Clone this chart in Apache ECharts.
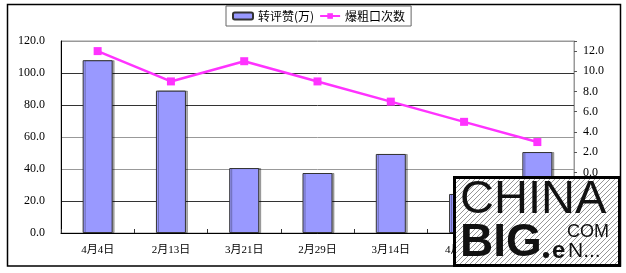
<!DOCTYPE html>
<html>
<head>
<meta charset="utf-8">
<script src="https://cdn.jsdelivr.net/npm/echarts@6/dist/echarts.min.js"></script>
<style>
html, body { margin: 0; padding: 0; background: #fff; }
#chart { width: 626px; height: 273px; }
</style>
</head>
<body>
<div id="chart"></div>
<script>
// data
var categories = ['4月4日', '2月13日', '3月21日', '2月29日', '3月14日', '4月11日', '4月18日'];
var zhuanping = [108, 89, 40.6, 37.5, 49.4, 24.4, 50.6];   // 转评赞(万), left axis
var baocukou = [12, 9, 11, 9, 7, 5, 3];                    // 爆粗口次数, right axis
var seriesNames = ['转评赞(万)', '爆粗口次数'];

var labelFont = "'Liberation Serif', 'Noto Sans CJK SC', serif";

// logo box in the corner: hatched box drawn into a canvas, then border and text
var boxX = 453, boxY = 176, boxW = 168, boxH = 91;
var hatch = document.createElement('canvas');
hatch.width = boxW; hatch.height = boxH;
var hc = hatch.getContext('2d');
hc.fillStyle = '#fff';
hc.fillRect(0, 0, boxW, boxH);
hc.strokeStyle = '#8a8a8a';
hc.lineWidth = 0.9;
hc.beginPath();
for (var c = 0; c < boxW + boxH; c += 5) {
    hc.moveTo(c, 0);
    hc.lineTo(c - boxH, boxH);
}
hc.stroke();

var logo = [
    {
        type: 'image', z: 100,
        style: { image: hatch, x: boxX, y: boxY, width: boxW, height: boxH }
    },
    {
        type: 'rect', z: 102,
        shape: { x: boxX + 1.5, y: boxY + 1.5, width: boxW - 3, height: boxH - 3 },
        style: { fill: 'none', stroke: '#000', lineWidth: 3 }
    },
    {
        type: 'text', z: 103, x: boxX + 7, y: boxY + 1,
        style: { text: 'CHINA', fill: '#111', font: '300 47px "Liberation Sans", sans-serif' }
    },
    {
        type: 'text', z: 103, x: boxX + 7, y: boxY + 44,
        style: { text: 'BIG', fill: '#111', font: 'bold 46px "Liberation Sans", sans-serif' }
    },
    {
        type: 'circle', z: 103,
        shape: { cx: boxX + 93, cy: boxY + 79, r: 3 },
        style: { fill: '#111' }
    },
    {
        type: 'text', z: 103, x: boxX + 114, y: boxY + 47,
        style: { text: 'COM', fill: '#111', font: '18px "Liberation Sans", sans-serif' }
    },
    {
        type: 'text', z: 103, x: boxX + 99, y: boxY + 63,
        style: { text: 'e', fill: '#111', font: 'bold 24px "Liberation Sans", sans-serif' }
    },
    {
        type: 'text', z: 103, x: boxX + 115, y: boxY + 65,
        style: { text: 'N...', fill: '#111', font: '21px "Liberation Sans", sans-serif' }
    }
];

var myChart = echarts.init(document.getElementById('chart'));
myChart.setOption({
    backgroundColor: '#fff',
    animation: false,
    legend: {
        left: 226,
        top: 6,
        padding: [4, 6, 4, 6],
        borderColor: '#666',
        borderWidth: 1,
        itemWidth: 20,
        itemHeight: 7,
        itemGap: 5,
        textStyle: { fontSize: 12, color: '#000', fontFamily: 'Noto Sans CJK SC' },
        data: seriesNames
    },
    grid: {
        left: 61, right: 52, top: 41, bottom: 40,
        show: true,
        borderColor: '#999',
        borderWidth: 1
    },
    xAxis: {
        type: 'category',
        data: categories,
        axisLine: { lineStyle: { color: '#000', width: 1 } },
        axisTick: { show: true, inside: true, length: 4, interval: 0, lineStyle: { color: '#333' } },
        axisLabel: { margin: 12, fontSize: 11, color: '#000', fontFamily: labelFont, interval: 0 }
    },
    yAxis: [
        {
            type: 'value',
            min: 0, max: 120, interval: 20,
            axisLine: { show: true, lineStyle: { color: '#000' } },
            axisTick: { show: false },
            axisLabel: {
                margin: 16, fontSize: 12, color: '#000', fontFamily: labelFont,
                formatter: function (v) { return v.toFixed(1); }
            },
            splitLine: {
                show: true,
                lineStyle: { color: ['#333', '#333', '#999', '#999', '#333', '#333', '#999'], width: 1 }
            }
        },
        {
            type: 'value',
            position: 'right',
            min: -6, max: 13, interval: 2,
            axisLine: { show: true, lineStyle: { color: '#999' } },
            axisTick: { show: true, length: 3, lineStyle: { color: '#555' } },
            axisLabel: {
                margin: 9, fontSize: 12, color: '#000', fontFamily: labelFont,
                formatter: function (v) { return (v >= 0 && v <= 12) ? v.toFixed(1) : ''; }
            },
            splitLine: { show: false }
        }
    ],
    series: [
        {
            name: seriesNames[0],
            type: 'bar',
            yAxisIndex: 0,
            barWidth: 30,
            data: zhuanping,
            itemStyle: {
                color: '#9999ff',
                borderColor: '#333',
                borderWidth: 1,
                shadowColor: 'rgba(0,0,0,0.3)',
                shadowOffsetX: 2,
                shadowBlur: 0
            }
        },
        {
            name: seriesNames[1],
            type: 'line',
            yAxisIndex: 1,
            data: baocukou,
            symbol: 'rect',
            symbolSize: 8,
            lineStyle: { color: '#ff33ff', width: 2.5 },
            itemStyle: { color: '#ff33ff' },
            z: 5
        }
    ],
    graphic: [
        {
            type: 'rect',
            silent: true,
            shape: { x: 7.5, y: 4.5, width: 613, height: 261.5 },
            style: { fill: 'none', stroke: '#000', lineWidth: 1.5 },
            z: 90
        }
    ].concat(logo)
});
</script>
</body>
</html>
